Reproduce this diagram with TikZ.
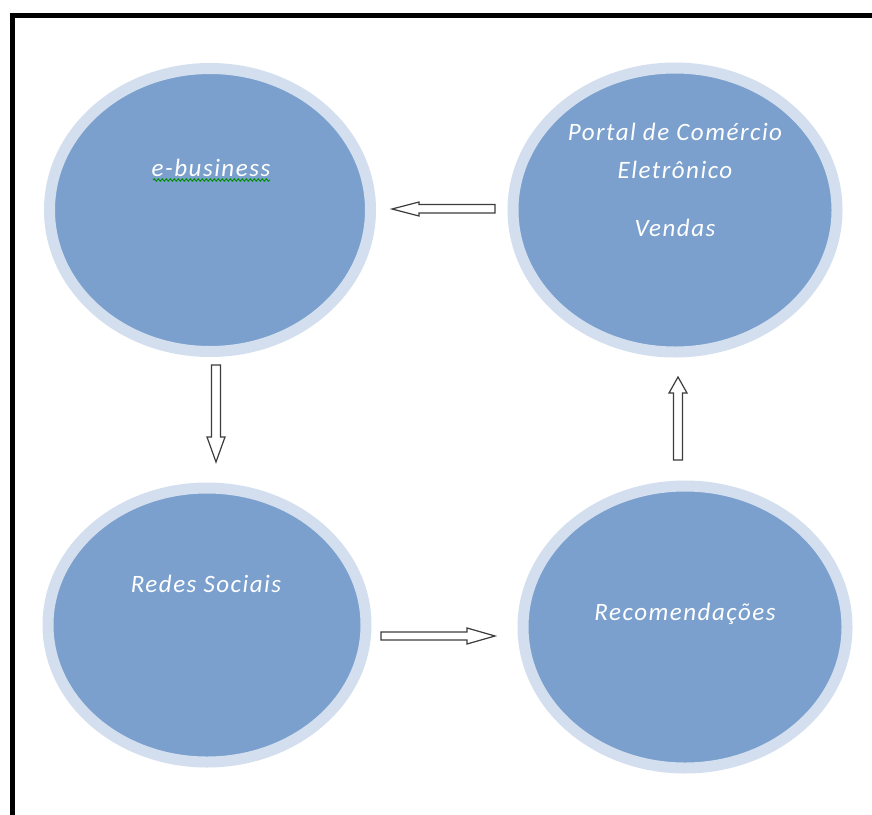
\documentclass[tikz,border=0pt]{standalone}
\usepackage{fontspec}
\setmainfont{Carlito}
\newfontfamily\labelfont[LetterSpace=6]{Carlito}
\usetikzlibrary{decorations.pathmorphing,shapes.geometric}
\definecolor{discfill}{HTML}{7BA0CD}
\definecolor{discring}{HTML}{D3DFEE}
\definecolor{arrowline}{HTML}{3C3C3C}
\tikzset{
  disc/.style={ellipse, fill=discfill, draw=discring, line width=11pt, inner sep=0pt},
  disctext/.style={font=\labelfont\fontsize{25}{30}\selectfont\itshape, text=white},
  blockarrow/.style={draw=arrowline, fill=white, line width=1.2pt, line join=miter},
  frame/.style={draw=black, line width=5pt},
}
\begin{document}
\begin{tikzpicture}[x=1pt,y=-1pt]
\useasboundingbox (0,0) rectangle (872,814);
\clip (0,0) rectangle (872,814);
\fill[white] (0,0) rectangle (872,814);
% outer frame, running off the right and bottom edges
\draw[frame] (12,15.5) rectangle (900,840);

% the four discs
\node[disc, minimum width=321pt, minimum height=283pt] (ebiz) at (210,210) {};
\node[disc, minimum width=324pt, minimum height=284pt] (portal) at (675,210) {};
\node[disc, minimum width=318pt, minimum height=274pt] (redes) at (207,625) {};
\node[disc, minimum width=324pt, minimum height=282pt] (recom) at (685,627) {};

% labels
\node[disctext] (ebizlabel) at (211,168) {e-business};
\draw[green!55!black, line width=0.9pt, decorate, decoration={snake, amplitude=1.2pt, segment length=4pt}]
  (153,180) -- (270,180);
\node[disctext] (portal1) at (675,132) {Portal de Comércio};
\node[disctext] (portal2) at (675,170) {Eletrônico};
\node[disctext] (portal3) at (675,228) {Vendas};
\node[disctext] (redeslabel) at (206,584) {Redes Sociais};
\node[disctext] (recomlabel) at (685,614) {Recomendações};

% block arrows between the discs
% portal -> e-business (pointing left)
\draw[blockarrow] (495,204.5) -- (419,204.5) -- (419,202) -- (392,209) -- (419,216) -- (419,213) -- (495,213) -- cycle;
% e-business -> redes (pointing down)
\draw[blockarrow] (211.5,365) -- (211.5,437) -- (207,437) -- (216,462) -- (225,437) -- (220.5,437) -- (220.5,365) -- cycle;
% redes -> recomendacoes (pointing right)
\draw[blockarrow] (381,632) -- (467,632) -- (467,628) -- (495,636) -- (467,644) -- (467,640) -- (381,640) -- cycle;
% recomendacoes -> portal (pointing up)
\draw[blockarrow] (673.5,460) -- (673.5,393) -- (669,393) -- (678,377) -- (687,393) -- (682.5,393) -- (682.5,460) -- cycle;
\end{tikzpicture}
\end{document}
